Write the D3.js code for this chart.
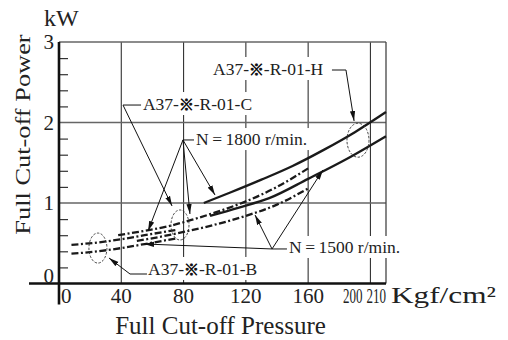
<!DOCTYPE html>
<html><head><meta charset="utf-8">
<script src="https://cdn.jsdelivr.net/npm/d3@7/dist/d3.min.js"></script>
<style>html,body{margin:0;padding:0;background:#fff;}svg{display:block;font-family:"Liberation Serif","Times New Roman",serif;}</style>
</head><body><svg id="c" width="508" height="340" font-family='"Liberation Serif","Times New Roman",serif'></svg>
<script>
// ---- data ----
const xTickValues = [0, 40, 80, 120, 160, 200, 210];
const xTickLabels = ["0", "40", "80", "120", "160", "200", "210"];
const yTickValues = [0, 1, 2, 3];
const yTickLabels = ["0", "1", "2", "3"];
const yMinorTicks = [0.2, 0.4, 0.6, 0.8, 1.2, 1.4, 1.6, 1.8, 2.2, 2.4, 2.6, 2.8];
const xGrid = [40, 80, 120, 160, 200];
const yGrid = [1, 2];

// pressure (kgf/cm2), power (kW)
const curveB1800 = [[8, 0.48], [25, 0.51], [40, 0.55], [55, 0.6], [75, 0.665]];
const curveB1500 = [[8, 0.37], [25, 0.40], [40, 0.44], [55, 0.49], [75, 0.56]];
const curveC1800 = [[38, 0.60], [55, 0.655], [70, 0.71], [85, 0.79], [100, 0.88], [120, 1.02], [140, 1.2], [160, 1.43]];
const curveC1500 = [[50, 0.53], [65, 0.58], [80, 0.64], [100, 0.73], [120, 0.84], [140, 0.98], [160, 1.18]];
const curveH1800 = [[93, 1.0], [110, 1.13], [130, 1.29], [150, 1.46], [170, 1.66], [190, 1.88], [210, 2.13]];
const curveH1500 = [[97, 0.84], [115, 0.94], [135, 1.06], [160, 1.3], [185, 1.55], [210, 1.83]];

const groupNames = ["A37-※-R-01-B", "A37-※-R-01-C", "A37-※-R-01-H"];
const groupCenters = [[25, 0.44], [77.7, 0.727], [192, 1.78]];
const groupLabelAt = [[57.2, 0.106], [53.9, 2.155], [98.9, 2.59]];
const groupLeaders = [
  [[56.5, 0.118], [45.6, 0.118], [32.1, 0.317]],
  [[52.7, 2.217], [41.1, 2.217], [72.6, 0.963]],
  [[175.3, 2.652], [184.3, 2.652], [189.5, 2.019]]
];
const speedLabels = ["N\u2009=\u20091800 r/min.", "N\u2009=\u20091500 r/min."];
const speedLabelAt = [[88, 1.72], [147.7, 0.379]];
const speedApex = [[79.6, 1.783], [136.8, 0.429]];
const speedStubEnd = [[86.7, 1.783], [146.4, 0.429]];
const speedTargets = [
  [[57.2, 0.652], [84.1, 0.863], [100.2, 1.099]],
  [[169.5, 1.41], [125.9, 0.851], [54.6, 0.491]]
];

// ---- chart ----
const svg = d3.select("#c");
const x = d3.scaleLinear().domain([0, 210]).range([59, 386]);
const y = d3.scaleLinear().domain([0, 3]).range([283.5, 42]);

svg.append("defs").append("marker")
  .attr("id", "ah").attr("markerUnits", "userSpaceOnUse")
  .attr("markerWidth", 11).attr("markerHeight", 6)
  .attr("refX", 10).attr("refY", 3).attr("orient", "auto")
  .append("path").attr("d", "M0,0.4 L10,3 L0,5.6 Z").attr("fill", "#111");

// grid
svg.append("g").selectAll("line").data(xGrid).join("line")
  .attr("x1", d => x(d)).attr("x2", d => x(d)).attr("y1", y(3)).attr("y2", y(0))
  .attr("stroke", "#333").attr("stroke-width", 1.1);
svg.append("g").selectAll("line").data(yGrid).join("line")
  .attr("x1", x(0)).attr("x2", x(210)).attr("y1", d => y(d)).attr("y2", d => y(d))
  .attr("stroke", "#666").attr("stroke-width", 1.4);
// frame
svg.append("line").attr("x1", x(0)).attr("x2", x(210)).attr("y1", y(3)).attr("y2", y(3))
  .attr("stroke", "#666").attr("stroke-width", 1.6);
svg.append("line").attr("x1", x(210)).attr("x2", x(210)).attr("y1", y(3)).attr("y2", y(0))
  .attr("stroke", "#444").attr("stroke-width", 1.3);

// label backgrounds & labels (gaps in grid)
const labels = svg.append("g");
function addLabel(str, pos, size) {
  const t = labels.append("text").attr("x", x(pos[0])).attr("y", y(pos[1]))
    .attr("font-size", size).attr("fill", "#222");
  const parts = str.split("※");
  if (parts.length > 1) {
    t.append("tspan").text(parts[0]);
    t.append("tspan").text("※").attr("font-family", '"Noto Sans CJK JP",sans-serif')
      .attr("font-weight", "900").attr("font-size", size * 0.85).attr("fill", "#111")
      .attr("stroke", "#111").attr("stroke-width", 0.7);
    t.append("tspan").text(parts[1]);
  } else t.text(str);
  return t;
}
const labelNodes = [];
groupNames.forEach((n, i) => labelNodes.push(addLabel(n, groupLabelAt[i], 17.5)));
speedLabels.forEach((n, i) => labelNodes.push(addLabel(n, speedLabelAt[i], 17.5)));
labelNodes.forEach(t => {
  const b = t.node().getBBox();
  labels.insert("rect", "text").attr("x", b.x - 2).attr("y", b.y - 1)
    .attr("width", b.width + 4).attr("height", b.height + 2).attr("fill", "#fff");
});

// curves
const line = d3.line().x(d => x(d[0])).y(d => y(d[1])).curve(d3.curveMonotoneX);
const dashDot = "7,2.5,2,2.5";
const curves = [
  [curveB1800, dashDot], [curveB1500, dashDot],
  [curveC1800, dashDot], [curveC1500, dashDot],
  [curveH1800, null], [curveH1500, null]
];
svg.append("g").selectAll("path").data(curves).join("path")
  .attr("d", d => line(d[0])).attr("fill", "none").attr("stroke", "#1a1a1a")
  .attr("stroke-width", 2.3).attr("stroke-dasharray", d => d[1]);

// ellipses
svg.append("g").selectAll("ellipse").data(groupCenters).join("ellipse")
  .attr("cx", d => x(d[0])).attr("cy", d => y(d[1]))
  .attr("rx", (d, i) => i === 2 ? 11 : 9).attr("ry", (d, i) => i === 2 ? 17 : 15)
  .attr("fill", "none").attr("stroke", "#333").attr("stroke-width", 0.9)
  .attr("stroke-dasharray", "2.5,1.5");

// leaders
const ann = svg.append("g").attr("fill", "none").attr("stroke", "#111").attr("stroke-width", 1);
groupLeaders.forEach(pts => {
  ann.append("path").attr("d", d3.line().x(d => x(d[0])).y(d => y(d[1]))(pts))
    .attr("marker-end", "url(#ah)");
});
speedApex.forEach((a, i) => {
  ann.append("line").attr("x1", x(a[0])).attr("y1", y(a[1]))
    .attr("x2", x(speedStubEnd[i][0])).attr("y2", y(speedStubEnd[i][1]));
  speedTargets[i].forEach(t => {
    ann.append("line").attr("x1", x(a[0])).attr("y1", y(a[1]))
      .attr("x2", x(t[0])).attr("y2", y(t[1])).attr("marker-end", "url(#ah)");
  });
});

// y minor ticks
const yAxis = d3.axisRight(y).tickValues(yMinorTicks).tickSize(9).tickFormat("");
const yg = svg.append("g").attr("transform", `translate(${x(0)},0)`).call(yAxis);
yg.select(".domain").remove();
yg.selectAll(".tick line").attr("stroke", "#333").attr("stroke-width", 1.2);

// axes lines
svg.append("line").attr("x1", x(0)).attr("x2", x(0)).attr("y1", y(3)).attr("y2", y(0) + 21)
  .attr("stroke", "#111").attr("stroke-width", 2.6);
svg.append("line").attr("x1", x(0) - 30).attr("x2", x(210)).attr("y1", y(0)).attr("y2", y(0))
  .attr("stroke", "#111").attr("stroke-width", 2.6);

// y tick labels
svg.append("g").selectAll("text").data(yTickValues).join("text")
  .attr("x", x(0) - 5).attr("y", d => d === 0 ? y(d) - 1 : y(d) + 7)
  .attr("text-anchor", "end").attr("font-size", 21).attr("fill", "#222")
  .text((d, i) => yTickLabels[i]);

// x tick labels (the last two are squeezed in the reference)
const xOff = d => d === 0 ? 2 : d === 200 ? -8 : 0;
svg.append("g").selectAll("text").data(xTickValues).join("text")
  .attr("transform", d => `translate(${x(d) + xOff(d)},303)` + (d >= 200 ? " scale(0.62,1)" : ""))
  .attr("text-anchor", d => d === 0 ? "start" : (d >= 200 ? "end" : "middle"))
  .attr("font-size", 21).attr("fill", "#222")
  .text((d, i) => xTickLabels[i]);

// units & titles
svg.append("text").attr("x", 44).attr("y", 26).attr("font-size", 24).attr("fill", "#222").text("kW");
svg.append("text").attr("transform", "translate(391,303) scale(1.36,1)")
  .attr("font-size", 23).attr("fill", "#222").text("Kgf/cm²");
svg.append("text").attr("x", 220.5).attr("y", 334).attr("text-anchor", "middle")
  .attr("font-size", 25).attr("fill", "#222").text("Full Cut-off Pressure");
svg.append("text").attr("transform", "translate(30,134.5) rotate(-90) scale(1.2,1)")
  .attr("text-anchor", "middle").attr("font-size", 22).attr("fill", "#222")
  .text("Full Cut-off Power");
</script></body></html>
